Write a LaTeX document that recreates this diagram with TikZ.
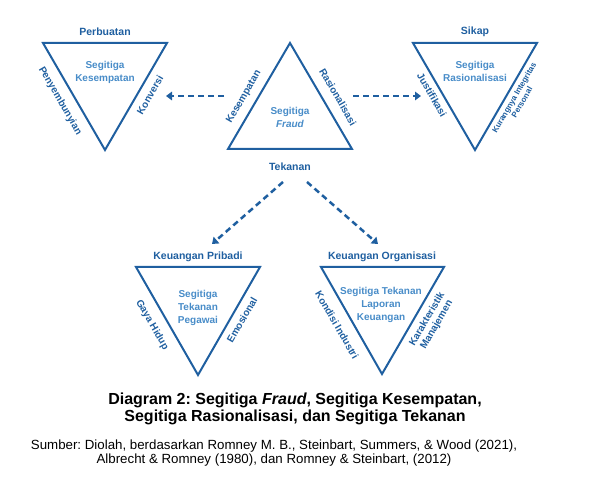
\documentclass[tikz,border=0pt]{standalone}
\usepackage{fontspec}
\setmainfont{Liberation Sans}
\usetikzlibrary{arrows.meta}
\frenchspacing

\definecolor{fraudblue}{RGB}{31,95,160}
\definecolor{innerblue}{RGB}{72,140,200}

\tikzset{
  tri/.style={draw=fraudblue, line width=2pt, line join=miter},
  toplbl/.style={text=fraudblue, font=\bfseries\fontsize{10.5}{12}\selectfont},
  sidelbl/.style={text=fraudblue, font=\bfseries\fontsize{10}{11}\selectfont, align=center},
  innerlbl/.style={text=innerblue, font=\bfseries\fontsize{10}{13}\selectfont, align=center},
  dasharrow/.style={draw=fraudblue, line width=2.5pt, dash pattern=on 6pt off 4pt,
    -{Triangle[length=6pt,width=8.5pt]}}
}

\begin{document}
\begin{tikzpicture}[x=1pt, y=-1pt]
  \useasboundingbox (0,0) rectangle (598,502);

  % segitiga fraud (tengah)
  \draw[tri] (290,43) -- (352,149) -- (228,149) -- cycle;
  \node[innerlbl] (fraud) at (290,117) {Segitiga\\\textit{Fraud}};
  \node[sidelbl, rotate=60] (kes) at (244,97) {Kesempatan};
  \node[sidelbl, rotate=-60] (ras) at (338,97) {Rasionalisasi};
  \node[toplbl] (tek) at (290,167) {Tekanan};

  % segitiga kesempatan
  \draw[tri] (43,43) -- (167,43) -- (105,150) -- cycle;
  \node[toplbl] (perb) at (105,32) {Perbuatan};
  \node[innerlbl] (skes) at (105,72) {Segitiga\\Kesempatan};
  \node[sidelbl, rotate=-60] (peny) at (60,101) {Penyembunyian};
  \node[sidelbl, rotate=60] (konv) at (150,95) {Konversi};

  % segitiga rasionalisasi
  \draw[tri] (413,43) -- (537,43) -- (475,150) -- cycle;
  \node[toplbl] (sikap) at (475,32) {Sikap};
  \node[innerlbl] (sras) at (475,71) {Segitiga\\Rasionalisasi};
  \node[sidelbl, rotate=-60] (just) at (432,95) {Justifikasi};
  \node[sidelbl, rotate=60, font=\bfseries\fontsize{8}{9}\selectfont] (kur) at (518,100) {Kurangnya Integritas\\Personal};

  % segitiga tekanan pegawai
  \draw[tri] (136,267) -- (260,267) -- (198,375) -- cycle;
  \node[toplbl] (kpri) at (198,257) {Keuangan Pribadi};
  \node[innerlbl] (speg) at (198,308) {Segitiga\\Tekanan\\Pegawai};
  \node[sidelbl, rotate=-60] (gaya) at (152,325) {Gaya Hidup};
  \node[sidelbl, rotate=60] (emo) at (242,320) {Emosional};

  % segitiga tekanan laporan keuangan
  \draw[tri] (321,267) -- (444,267) -- (382,374) -- cycle;
  \node[toplbl] (korg) at (382,257) {Keuangan Organisasi};
  \node[innerlbl] (slap) at (381,305) {Segitiga Tekanan\\Laporan\\Keuangan};
  \node[sidelbl, rotate=-60] (kond) at (337,325) {Kondisi Industri};
  \node[sidelbl, rotate=60] (kar) at (432,322) {Karakteristik\\Manajemen};

  % panah
  \coordinate (a1) at (224,96);
  \coordinate (a1e) at (166,96);
  \coordinate (a2) at (353,96);
  \coordinate (a2e) at (421,96);
  \coordinate (a3) at (283,182);
  \coordinate (a3e) at (212,244);
  \coordinate (a4) at (307,182);
  \coordinate (a4e) at (378,244);
  \draw[dasharrow] (a1) -- (a1e);
  \draw[dasharrow] (a2) -- (a2e);
  \draw[dasharrow] (a3) -- (a3e);
  \draw[dasharrow] (a4) -- (a4e);

  % judul dan sumber
  \node[font=\bfseries\fontsize{16}{16.5}\selectfont, align=center] (judul) at (295,409)
    {Diagram 2: Segitiga \textit{Fraud}, Segitiga Kesempatan,\\Segitiga Rasionalisasi, dan Segitiga Tekanan};
  \node[font=\fontsize{13.3}{14}\selectfont, align=center] (sumber) at (274,453)
    {Sumber: Diolah, berdasarkan Romney M. B., Steinbart, Summers, \& Wood (2021),\\Albrecht \& Romney (1980), dan Romney \& Steinbart, (2012)};
\end{tikzpicture}
\end{document}
